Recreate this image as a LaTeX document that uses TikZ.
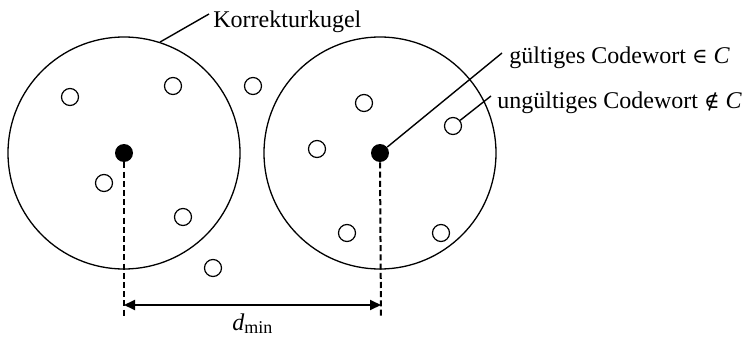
\documentclass[tikz,border=0pt]{standalone}
\usepackage{fontspec}
\setmainfont{Liberation Serif}
\newfontfamily\symfont{DejaVu Serif}
\usetikzlibrary{arrows.meta}
\begin{document}
\begin{tikzpicture}[x=0.5pt,y=-0.5pt,
  ball/.style={draw,circle,line width=0.65pt,minimum size=116pt,inner sep=0pt},
  word/.style={draw,circle,line width=0.6pt,minimum size=8.5pt,inner sep=0pt,fill=white},
  valid/.style={circle,fill=black,minimum size=9pt,inner sep=0pt},
  lbl/.style={anchor=base west,inner sep=0pt,font=\fontsize{12}{14}\selectfont},
  leader/.style={line width=0.7pt},
  guide/.style={line width=1pt,dash pattern=on 3pt off 1.6pt},
  dim/.style={line width=1pt,{Triangle[length=5.5pt,width=5pt]}-{Triangle[length=5.5pt,width=5pt]}}]
\useasboundingbox (0,0) rectangle (746,337);
% correction spheres
\node[ball] (K1) at (124,153) {};
\node[ball] (K2) at (380,153) {};
% valid codewords
\node[valid] (c1) at (124,153) {};
\node[valid] (c2) at (380,153) {};
% invalid codewords
\node[word] (u1) at (70,97) {};
\node[word] (u2) at (173,86) {};
\node[word] (u3) at (253,86) {};
\node[word] (u4) at (104,183) {};
\node[word] (u5) at (183,217) {};
\node[word] (u6) at (213,268) {};
\node[word] (u7) at (364,103) {};
\node[word] (u8) at (317,149) {};
\node[word] (u9) at (453,126) {};
\node[word] (u10) at (347,233) {};
\node[word] (u11) at (441,233) {};
% labels
\node[lbl] (lK) at (213,27) {Korrekturkugel};
\node[lbl] (lG) at (509,63) {gültiges Codewort {\symfont\fontsize{10.5}{12}\selectfont ∈} \textit{C}};
\node[lbl] (lU) at (497,108) {ungültiges Codewort {\symfont\fontsize{10.5}{12}\selectfont ∉} \textit{C}};
\coordinate (pK) at (209,14);
\coordinate (pG) at (502,53);
\coordinate (pU) at (491,96);
\draw[leader] (K1.72.5) -- (pK);
\draw[leader] (c2) -- (pG);
\draw[leader] (u9) -- (pU);
% distance
\coordinate (e1) at (124,317);
\coordinate (e2) at (381,317);
\coordinate (a1) at (124,305);
\coordinate (a2) at (381,305);
\draw[guide] (c1.south) -- (e1);
\draw[guide] (c2.south) -- (e2);
\draw[dim] (a1) -- (a2);
\node[lbl] (ld) at (232,330) {\textit{d}\raisebox{-0.35ex}{\fontsize{9}{10}\selectfont min}};
\end{tikzpicture}
\end{document}
